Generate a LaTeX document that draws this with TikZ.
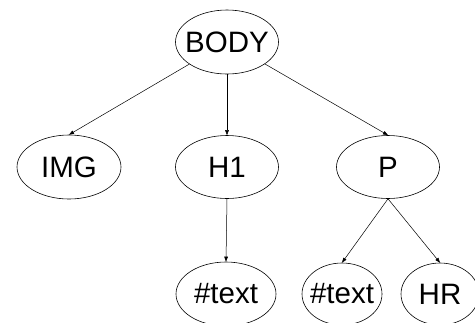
\documentclass[tikz,border=0pt]{standalone}
\usepackage{fontspec}
\setmainfont{Liberation Sans}
\usetikzlibrary{shapes.geometric,arrows.meta}
\begin{document}
\begin{tikzpicture}[x=1bp,y=-1bp,
  tnode/.style={ellipse,draw,line width=0.6bp,inner sep=0pt,
    font=\fontsize{29.5bp}{31bp}\selectfont},
  edge/.style={line width=0.5bp,-{Triangle[length=5bp,width=3.6bp]}}]
\useasboundingbox (0,0) rectangle (475,322);
\node[tnode,minimum width=103bp,minimum height=64bp] (body) at (227,42) {\makebox[0pt]{BODY}};
\node[tnode,minimum width=104bp,minimum height=64bp] (img) at (69,167) {\makebox[0pt]{IMG}};
\node[tnode,minimum width=103bp,minimum height=63bp] (h1) at (227,167) {\makebox[0pt]{H1}};
\node[tnode,minimum width=103bp,minimum height=63bp] (p) at (388,167) {\makebox[0pt]{P}};
\node[tnode,minimum width=100bp,minimum height=64bp] (t1) at (226,294) {\makebox[0pt]{\#text}};
\node[tnode,minimum width=80bp,minimum height=62bp] (t2) at (342,294) {\makebox[0pt]{\#text}};
\node[tnode,minimum width=78bp,minimum height=62bp] (hr) at (440,294) {\makebox[0pt]{HR}};
\draw[edge] (body) -- (img.north);
\draw[edge] (body.south) -- (h1.north);
\draw[edge] (body) -- (p.north);
\draw[edge] (h1.south) -- (t1.north);
\draw[edge] (p.south) -- (t2.north);
\draw[edge] (p.south) -- (hr.north);
\end{tikzpicture}
\end{document}
